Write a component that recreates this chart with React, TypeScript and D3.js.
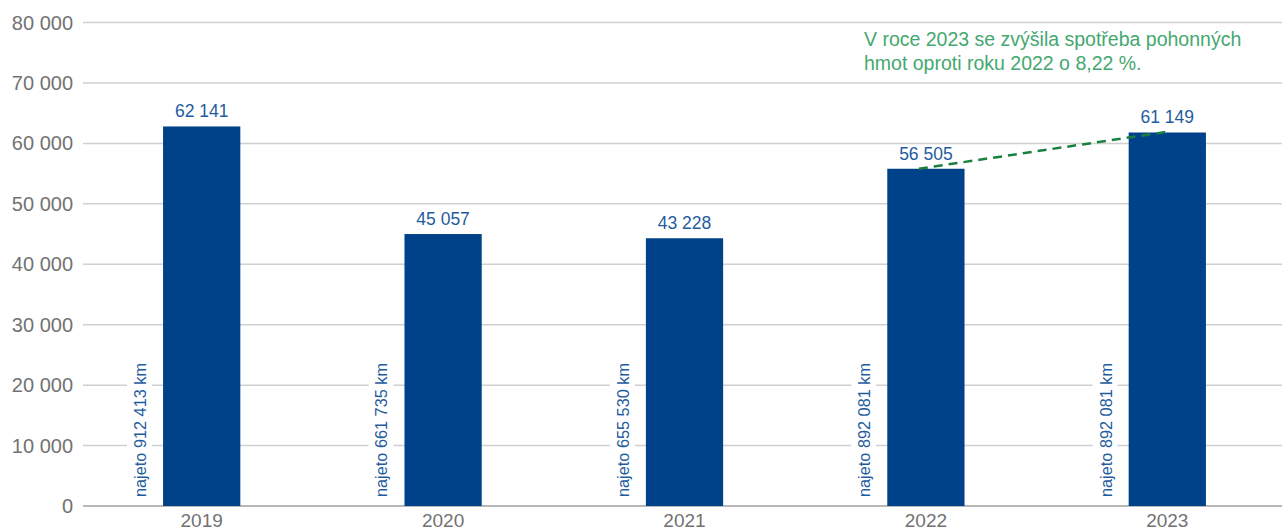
import { useEffect, useRef } from 'react';
import * as d3 from 'd3';

// Data
const years = ['2019', '2020', '2021', '2022', '2023'];
// bar heights as drawn in the reference
const barValues = [62800, 45000, 44300, 55800, 61800];
const valueLabels = ['62 141', '45 057', '43 228', '56 505', '61 149'];
const distanceLabels = [
    'najeto 912 413 km',
    'najeto 661 735 km',
    'najeto 655 530 km',
    'najeto 892 081 km',
    'najeto 892 081 km',
];
const yTicks = [0, 10000, 20000, 30000, 40000, 50000, 60000, 70000, 80000];
const noteLines = [
    'V roce 2023 se zvýšila spotřeba pohonných',
    'hmot oproti roku 2022 o 8,22 %.',
];
const trendFrom = '2022';
const trendTo = '2023';

const FONT = '"Liberation Sans", Arial, Helvetica, sans-serif';

const App: React.FC = () => {
    const svgRef = useRef<SVGSVGElement>(null);

    useEffect(() => {
        if (!svgRef.current) return;
        document.body.style.margin = '0';

        const svg = d3.select(svgRef.current);
        svg.selectAll('*').remove();

        const width = 1282;
        const height = 531;

        svg.attr('width', width).attr('height', height).style('font-family', FONT);

        const xScale = d3.scaleBand<string>()
            .domain(years)
            .range([81, 1288])
            .padding(0);

        const yScale = d3.scaleLinear()
            .domain([0, 80000])
            .range([506, 22.5]);

        const barW = xScale.bandwidth() * 0.32;
        const cx = (y: string) => (xScale(y) ?? 0) + xScale.bandwidth() / 2;

        // Grid lines
        const grid = svg.append('g');
        grid.selectAll('line')
            .data(yTicks)
            .enter()
            .append('line')
            .attr('x1', 83)
            .attr('x2', width)
            .attr('y1', d => yScale(d))
            .attr('y2', d => yScale(d))
            .attr('stroke', d => (d === 0 ? '#a0a0a0' : '#d0d0d0'))
            .attr('stroke-width', 1.5);

        // Y axis labels
        svg.append('g')
            .selectAll('text')
            .data(yTicks)
            .enter()
            .append('text')
            .attr('x', 73)
            .attr('y', d => yScale(d))
            .attr('dy', '0.35em')
            .attr('text-anchor', 'end')
            .attr('fill', '#727272')
            .style('font-size', '20px')
            .text(d => d3.format(',')(d).replace(/,/g, ' '));

        // Rotated distance labels with white backing
        const distG = svg.append('g');
        years.forEach((yr, i) => {
            const x = cx(yr) - barW / 2 - 17;
            const g = distG.append('g')
                .attr('transform', `translate(${x},497) rotate(-90)`);
            const rect = g.append('rect').attr('fill', '#fff');
            const t = g.append('text')
                .attr('x', 0)
                .attr('y', 0)
                .attr('fill', '#1f5c9e')
                .style('font-size', '16.3px')
                .text(distanceLabels[i]);
            const bb = (t.node() as SVGTextElement).getBBox();
            rect.attr('x', bb.x - 3)
                .attr('y', bb.y - 4)
                .attr('width', bb.width + 6)
                .attr('height', bb.height + 7);
        });

        // Bars
        svg.append('g')
            .selectAll('rect')
            .data(years)
            .enter()
            .append('rect')
            .attr('x', d => cx(d) - barW / 2)
            .attr('y', (_, i) => yScale(barValues[i]))
            .attr('width', barW)
            .attr('height', (_, i) => yScale(0) - yScale(barValues[i]))
            .attr('fill', '#00428a');

        // Value labels
        svg.append('g')
            .selectAll('text')
            .data(years)
            .enter()
            .append('text')
            .attr('x', d => cx(d))
            .attr('y', (_, i) => yScale(barValues[i]) - 9)
            .attr('text-anchor', 'middle')
            .attr('fill', '#1f5c9e')
            .style('font-size', '17.5px')
            .text((_, i) => valueLabels[i]);

        // X axis labels
        svg.append('g')
            .selectAll('text')
            .data(years)
            .enter()
            .append('text')
            .attr('x', d => cx(d))
            .attr('y', 527)
            .attr('text-anchor', 'middle')
            .attr('fill', '#727272')
            .style('font-size', '19px')
            .text(d => d);

        // Trend line 2022 -> 2023
        const i0 = years.indexOf(trendFrom);
        const i1 = years.indexOf(trendTo);
        svg.append('line')
            .attr('x1', cx(trendFrom) - 7)
            .attr('y1', yScale(barValues[i0]))
            .attr('x2', cx(trendTo) + 2)
            .attr('y2', yScale(barValues[i1]) - 1)
            .attr('stroke', '#1a8040')
            .attr('stroke-width', 2.5)
            .attr('stroke-dasharray', '9 6');

        // Note
        svg.append('g')
            .selectAll('text')
            .data(noteLines)
            .enter()
            .append('text')
            .attr('x', 864)
            .attr('y', (_, i) => 46 + i * 24)
            .attr('fill', '#45a870')
            .style('font-size', '19.5px')
            .text(d => d);
    }, []);

    return (
        <div>
            <svg ref={svgRef} style={{ display: 'block' }}></svg>
        </div>
    );
};

export default App;
